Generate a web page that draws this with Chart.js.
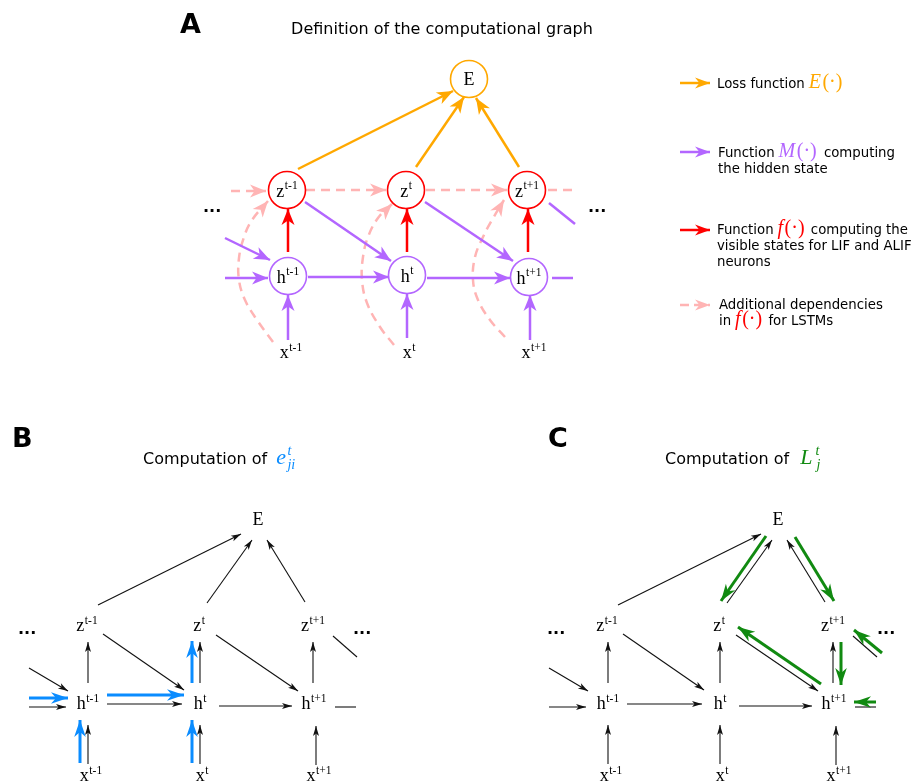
<!DOCTYPE html>
<html>
<head>
<meta charset="utf-8">
<title>Computational graph</title>
<script src="https://cdn.jsdelivr.net/npm/chart.js@4.4.1/dist/chart.umd.min.js"></script>
<style>
    html, body { margin: 0; padding: 0; background: #fff; }
    #graph { display: block; }
</style>
</head>
<body>
<canvas id="graph" width="913" height="783"></canvas>
<script>
// Diagram drawn on a scatter chart whose units equal canvas pixels

// ---- Panel A: definition of the computational graph ----
const aNodeX = [469, 287, 406, 527, 288, 407, 529];
const aNodeY = [79, 190, 190, 190, 276, 275, 277];
const aNodeMain = ['E', 'z', 'z', 'z', 'h', 'h', 'h'];
const aNodeSup = ['', 't-1', 't', 't+1', 't-1', 't', 't+1'];
const aInputX = [291, 409, 534];
const aInputSup = ['t-1', 't', 't+1'];

// edges [x1, y1, x2, y2], arrow at the second end
const aLossEdges = [[298, 169, 453, 91], [416, 167, 464, 97], [519, 167, 476, 98]];
const aSpikeEdges = [[288, 252, 288, 209], [407, 252, 407, 209], [528, 252, 528, 209]];
const aStateEdges = [
    [288, 340, 288, 295], [407, 338, 407, 294], [530, 340, 530, 295],
    [225, 278, 268, 278], [308, 277, 389, 277], [427, 278, 510, 278],
    [225, 238, 270, 260], [305, 202, 391, 261], [425, 202, 513, 261]
];
const aStateOpen = [[552, 278, 573, 278], [549, 203, 575, 224]];
const aLstmEdges = [[231, 191, 266, 191], [306, 190, 386, 190], [426, 190, 507, 190]];
const aLstmOpen = [[548, 190, 572, 190]];
const aLstmCurves = [
    [[273, 342], [257, 320], [245, 300], [239, 280], [239, 258], [244, 237], [252, 220], [268, 201]],
    [[394, 345], [380, 327], [367, 303], [362, 280], [363, 257], [368, 237], [378, 218], [392, 204]],
    [[505, 337], [490, 320], [478, 300], [473, 280], [475, 257], [483, 237], [492, 220], [504, 200]]
];
const legendY = [83, 152, 230, 305];

// ---- Panel B: computation of e_ji (panel C reuses it shifted right) ----
const bNodeX = [258, 87, 199, 313, 88, 200, 314, 91, 202, 319];
const bNodeY = [525, 631, 631, 631, 709, 709, 709, 781, 781, 781];
const bNodeMain = ['E', 'z', 'z', 'z', 'h', 'h', 'h', 'x', 'x', 'x'];
const bNodeSup = ['', 't-1', 't', 't+1', 't-1', 't', 't+1', 't-1', 't', 't+1'];
const bEdges = [
    [98, 605, 241, 534], [207, 603, 252, 540], [305, 602, 267, 540],
    [88, 683, 88, 642], [200, 683, 200, 642], [313, 683, 313, 642],
    [88, 764, 88, 725], [200, 764, 200, 725], [316, 765, 316, 726],
    [29, 707, 66, 707], [107, 704, 182, 704], [219, 706, 292, 706],
    [29, 668, 68, 691], [103, 634, 184, 690], [216, 635, 298, 691]
];
const bOpen = [[335, 707, 356, 707], [333, 636, 357, 657]];
const bBlueEdges = [
    [29, 698, 68, 698], [107, 695, 184, 695],
    [80, 763, 80, 720], [192, 763, 192, 720], [192, 683, 192, 641]
];
const cShift = 520;
const cGreenEdges = [
    [766, 536, 721, 601], [795, 537, 834, 601], [821, 684, 738, 627],
    [841, 642, 841, 685], [882, 653, 854, 630], [876, 702, 854, 702]
];

// Colours and fonts
const ORANGE = '#ffa800';
const PURPLE = '#b366ff';
const RED = '#ff0000';
const PINK = '#ffb4b4';
const BLUE = '#0a8cff';
const GREEN = '#118a11';
const INK = '#111111';
const SANS = '"DejaVu Sans", sans-serif';
const SERIF = '"Liberation Serif", "DejaVu Serif", serif';

const HEAD_A = { len: 16, hw: 6.5, inner: 11.5 };
const HEAD_LEG = { len: 15, hw: 5.5, inner: 10.5 };
const HEAD_THIN = { len: 10, hw: 3, inner: 7.5 };
const HEAD_BOLD = { len: 17, hw: 5.8, inner: 12 };

// Helpers
function line(points, color, width, head, dash, tension) {
    return {
        data: points.map(p => ({ x: p[0], y: p[1] })),
        showLine: true,
        borderColor: color,
        backgroundColor: color,
        borderWidth: width,
        borderDash: dash || [],
        borderCapStyle: 'butt',
        pointRadius: 0,
        pointHoverRadius: 0,
        tension: tension || 0,
        clip: false,
        order: 2,
        head: head || null
    };
}

function edges(list, color, width, head, dash, shift) {
    const dx = shift || 0;
    return list.map(e => line([[e[0] + dx, e[1]], [e[2] + dx, e[3]]], color, width, head, dash));
}

const datasets = [];

// Panel A nodes (white discs drawn on top of the edges)
datasets.push({
    data: aNodeX.map((x, i) => ({ x: x, y: aNodeY[i] })),
    pointRadius: 18.5,
    pointHoverRadius: 18.5,
    pointBackgroundColor: '#ffffff',
    pointBorderColor: aNodeMain.map(m => m === 'E' ? ORANGE : m === 'z' ? RED : PURPLE),
    pointBorderWidth: 1.6,
    showLine: false,
    clip: false,
    order: 0
});

datasets.push(...edges(aLossEdges, ORANGE, 2.5, HEAD_A));
datasets.push(...edges(aSpikeEdges, RED, 2.5, HEAD_A));
datasets.push(...edges(aStateEdges, PURPLE, 2.5, HEAD_A));
datasets.push(...edges(aStateOpen, PURPLE, 2.5, null));
datasets.push(...edges(aLstmEdges, PINK, 2.5, HEAD_A, [9, 6]));
datasets.push(...edges(aLstmOpen, PINK, 2.5, null, [9, 6]));
aLstmCurves.forEach(c => datasets.push(line(c, PINK, 2.5, HEAD_A, [9, 6], 0.4)));

// legend arrows
const legendColors = [ORANGE, PURPLE, RED, PINK];
legendY.forEach((y, i) => {
    datasets.push(line([[680, y], [710, y]], legendColors[i], 2.5, HEAD_LEG, i === 3 ? [9, 5] : null));
});

// Panel B
datasets.push(...edges(bEdges, INK, 1.1, HEAD_THIN));
datasets.push(...edges(bOpen, INK, 1.1, null));
datasets.push(...edges(bBlueEdges, BLUE, 3, HEAD_BOLD));

// Panel C
datasets.push(...edges(bEdges, INK, 1.1, HEAD_THIN, null, cShift));
datasets.push(...edges(bOpen, INK, 1.1, null, null, cShift));
datasets.push(...edges(cGreenEdges, GREEN, 3, HEAD_BOLD));

// Arrow heads at the last point of every dataset that asks for one
const arrowHeads = {
    id: 'arrowHeads',
    afterDatasetsDraw(chart) {
        const ctx = chart.ctx;
        chart.data.datasets.forEach((ds, i) => {
            if (!ds.head) return;
            const pts = chart.getDatasetMeta(i).data;
            const tip = pts[pts.length - 1];
            const prev = pts[pts.length - 2];
            let fx = prev.x, fy = prev.y;
            if (ds.tension && tip.cp1x !== undefined &&
                (Math.abs(tip.cp1x - tip.x) + Math.abs(tip.cp1y - tip.y)) > 0.5) {
                fx = tip.cp1x;
                fy = tip.cp1y;
            }
            const ang = Math.atan2(tip.y - fy, tip.x - fx);
            const h = ds.head;
            ctx.save();
            ctx.translate(tip.x, tip.y);
            ctx.rotate(ang);
            ctx.beginPath();
            ctx.moveTo(0, 0);
            ctx.lineTo(-h.len, h.hw);
            ctx.lineTo(-h.inner, 0);
            ctx.lineTo(-h.len, -h.hw);
            ctx.closePath();
            ctx.fillStyle = ds.borderColor;
            ctx.fill();
            ctx.restore();
        });
    }
};

// runs: {t, font, color, dy, back} ; back = do not advance pen after run
function drawRich(ctx, runs, x, y, align) {
    let w = 0;
    runs.forEach(r => {
        ctx.font = r.font;
        r.w = ctx.measureText(r.t).width;
        if (!r.back) w += r.w;
        w += r.dx || 0;
    });
    let cx = align === 'center' ? x - w / 2 : x;
    ctx.textAlign = 'left';
    ctx.textBaseline = 'alphabetic';
    runs.forEach(r => {
        ctx.font = r.font;
        ctx.fillStyle = r.color || '#000';
        cx += r.dx || 0;
        ctx.fillText(r.t, cx, y + (r.dy || 0));
        if (!r.back) cx += r.w;
    });
}

function nodeLabel(ctx, main, sup, x, y) {
    const runs = [{ t: main, font: '18px ' + SERIF, color: '#000' }];
    if (sup) runs.push({ t: sup, font: '11.5px ' + SERIF, color: '#000', dy: -7.5, dx: 0.5 });
    drawRich(ctx, runs, x, y, 'center');
}

function mathFn(letter, color) {
    return [
        { t: letter, font: 'italic 20px ' + SERIF, color: color, dx: 4 },
        { t: '(\u00b7)', font: '20px ' + SERIF, color: color, dx: 1.5 }
    ];
}

const labels = {
    id: 'labels',
    afterDraw(chart) {
        const ctx = chart.ctx;
        const sx = v => chart.scales.x.getPixelForValue(v);
        const sy = v => chart.scales.y.getPixelForValue(v);
        const txt = '13.3px ' + SANS;
        ctx.save();

        // panel letters and titles
        drawRich(ctx, [{ t: 'A', font: 'bold 27px ' + SANS }], sx(180), sy(33));
        drawRich(ctx, [{ t: 'B', font: 'bold 27px ' + SANS }], sx(12), sy(447));
        drawRich(ctx, [{ t: 'C', font: 'bold 27px ' + SANS }], sx(548), sy(447));
        drawRich(ctx, [{ t: 'Definition of the computational graph', font: '16px ' + SANS }], sx(442), sy(34), 'center');
        drawRich(ctx, [
            { t: 'Computation of ', font: '16px ' + SANS },
            { t: 'e', font: 'italic 22px ' + SERIF, color: BLUE, dx: 4 },
            { t: 't', font: 'italic 14px ' + SERIF, color: BLUE, dy: -9, dx: 1.5, back: true },
            { t: 'ji', font: 'italic 14px ' + SERIF, color: BLUE, dy: 5, dx: 0 }
        ], sx(143), sy(464));
        drawRich(ctx, [
            { t: 'Computation of ', font: '16px ' + SANS },
            { t: 'L', font: 'italic 22px ' + SERIF, color: GREEN, dx: 6 },
            { t: 't', font: 'italic 14px ' + SERIF, color: GREEN, dy: -9, dx: 3, back: true },
            { t: 'j', font: 'italic 14px ' + SERIF, color: GREEN, dy: 5, dx: 1 }
        ], sx(665), sy(464));

        // legend
        drawRich(ctx, [{ t: 'Loss function', font: txt }].concat(mathFn('E', ORANGE)), sx(717), sy(88));
        drawRich(ctx, [{ t: 'Function', font: txt }].concat(mathFn('M', PURPLE),
            [{ t: ' computing', font: txt, dx: 3 }]), sx(718), sy(157));
        drawRich(ctx, [{ t: 'the hidden state', font: txt }], sx(718), sy(173));
        drawRich(ctx, [{ t: 'Function', font: txt }].concat(mathFn('f', RED),
            [{ t: ' computing the', font: txt, dx: 2 }]), sx(717), sy(234));
        drawRich(ctx, [{ t: 'visible states for LIF and ALIF', font: txt }], sx(717), sy(250));
        drawRich(ctx, [{ t: 'neurons', font: txt }], sx(717), sy(266));
        drawRich(ctx, [{ t: 'Additional dependencies', font: txt }], sx(719), sy(309));
        drawRich(ctx, [{ t: 'in', font: txt }].concat(mathFn('f', RED),
            [{ t: ' for LSTMs', font: txt, dx: 2 }]), sx(719), sy(325));

        // node labels, panel A
        aNodeX.forEach((x, i) => {
            const base = i === 0 ? aNodeY[i] + 6 : aNodeY[i] + 6.5;
            nodeLabel(ctx, aNodeMain[i], aNodeSup[i], sx(x), sy(base));
        });
        aInputX.forEach((x, i) => nodeLabel(ctx, 'x', aInputSup[i], sx(x), sy(358)));

        // node labels, panels B and C
        [0, cShift].forEach(dx => {
            bNodeX.forEach((x, i) => nodeLabel(ctx, bNodeMain[i], bNodeSup[i], sx(x + dx), sy(bNodeY[i])));
        });

        // ellipses
        const dots = 'bold 16px ' + SANS;
        [[203, 212], [588, 212], [18, 634], [353, 634], [547, 634], [877, 634]].forEach(p => {
            drawRich(ctx, [{ t: '...', font: dots }], sx(p[0]), sy(p[1]));
        });

        ctx.restore();
    }
};

new Chart(document.getElementById('graph').getContext('2d'), {
    type: 'scatter',
    data: { datasets: datasets },
    options: {
        responsive: false,
        animation: false,
        events: [],
        layout: { padding: 0, autoPadding: false },
        scales: {
            x: { type: 'linear', min: 0, max: 913, display: false },
            y: { type: 'linear', min: 0, max: 783, reverse: true, display: false }
        },
        plugins: {
            legend: { display: false },
            tooltip: { enabled: false }
        }
    },
    plugins: [arrowHeads, labels]
});
</script>
</body>
</html>
